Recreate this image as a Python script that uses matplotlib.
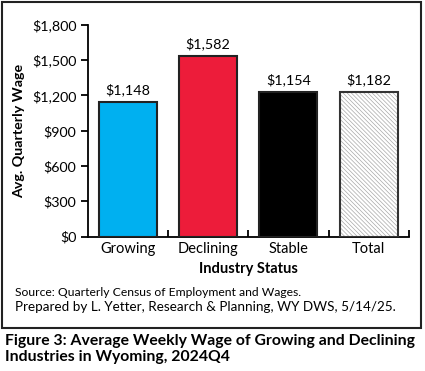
import matplotlib
matplotlib.use('Agg')
import matplotlib.pyplot as plt
from matplotlib.patches import Rectangle

plt.rcParams['font.family'] = ['Lato', 'DejaVu Sans']
plt.rcParams['hatch.linewidth'] = 0.5

categories = ['Growing', 'Declining', 'Stable', 'Total']
bar_heights = [1148, 1538, 1230, 1230]
value_labels = ['$1,148', '$1,582', '$1,154', '$1,182']
y_ticks = [0, 300, 600, 900, 1200, 1500, 1800]
y_tick_labels = ['$0', '$300', '$600', '$900', '$1,200', '$1,500', '$1,800']
colors = ['#00B0F0', '#ED1C3A', '#000000', '#FFFFFF']

fig = plt.figure(figsize=(4.25, 3.71), dpi=100)
ax = fig.add_axes([0.206, 0.362, 0.756, 0.571])

x = range(len(categories))
for i in x:
    if categories[i] == 'Total':
        ax.bar(i, bar_heights[i], width=0.72, color='white', edgecolor='#a8a8a8',
               hatch='\\' * 8, linewidth=0, zorder=2)
        ax.bar(i, bar_heights[i], width=0.72, fill=False, edgecolor='#333333',
               linewidth=1.5, zorder=3)
    else:
        ax.bar(i, bar_heights[i], width=0.72, color=colors[i], edgecolor='#222222',
               linewidth=1.5, zorder=3)
    ax.text(i, bar_heights[i] + 45, value_labels[i], ha='center', va='bottom',
            fontsize=10.3)

ax.set_xlim(-0.5, 3.5)
ax.set_ylim(0, 1800)
ax.set_yticks(y_ticks)
ax.set_yticklabels(y_tick_labels, fontsize=10.3)
ax.set_xticks(list(x))
ax.set_xticklabels(categories, fontsize=10.5)
ax.tick_params(axis='x', length=0, pad=4)
ax.set_xticks([0.5, 1.5, 2.5, 3.5], minor=True)
ax.tick_params(axis='x', which='minor', length=5, width=1.3, direction='in')
ax.tick_params(axis='y', length=5, width=1.3, pad=3)
for s in ['top', 'right']:
    ax.spines[s].set_visible(False)
for s in ['left', 'bottom']:
    ax.spines[s].set_linewidth(1.3)
ax.set_xlabel('Industry Status', fontsize=10.5, fontweight='bold', labelpad=4)
ax.set_ylabel('Avg. Quarterly Wage', fontsize=10.3, fontweight='bold', labelpad=5)

fig.patches.append(Rectangle((2 / 425, 1 - 328 / 371), 419 / 425, 326 / 371,
                             transform=fig.transFigure, fill=False,
                             edgecolor='#222222', linewidth=1.5))

fig.text(15 / 425, 1 - 292 / 371, 'Source: Quarterly Census of Employment and Wages.',
         fontsize=8.7, va='center')
fig.text(15 / 425, 1 - 307 / 371, 'Prepared by L. Yetter, Research & Planning, WY DWS, 5/14/25.',
         fontsize=9.7, va='center')
fig.text(5 / 425, 1 - 349 / 371,
         'Figure 3: Average Weekly Wage of Growing and Declining\nIndustries in Wyoming, 2024Q4',
         fontsize=11.3, fontweight='bold', va='center', linespacing=1.1)

fig.savefig('out.png', dpi=100)
